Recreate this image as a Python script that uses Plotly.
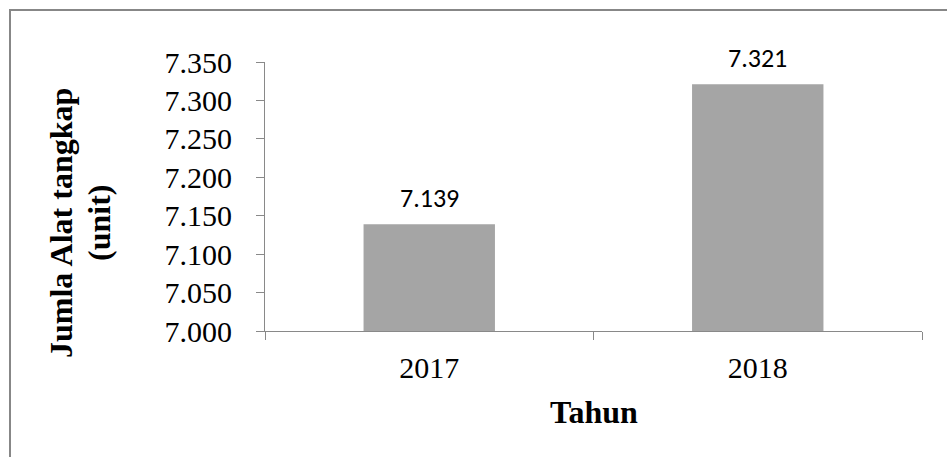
import plotly.graph_objects as go

years = ["2017", "2018"]
values = [7139, 7321]
y_ticks = [7000, 7050, 7100, 7150, 7200, 7250, 7300, 7350]
y_title_lines = ["Jumla Alat tangkap", "(unit)"]

W, H = 947, 457
L, R, T, B = 265, 25, 62, 126
pw, ph = W - L - R, H - T - B

SERIF = "Liberation Serif"
SANS = "Carlito, Lato"

def fmt(v):
    return f"{v:,}".replace(",", ".")

def px_x(p):
    return (p - L) / pw

def px_y(p):
    return (T + ph - p) / ph

fig = go.Figure()
fig.add_trace(go.Bar(x=years, y=values, width=0.4,
                     marker=dict(color="#A5A5A5", line=dict(width=0)),
                     showlegend=False, hoverinfo="skip"))

for i, v in enumerate(values):
    fig.add_annotation(x=i, y=v, xref="x", yref="y", text=fmt(v), showarrow=False,
                       yanchor="bottom", yshift=8,
                       font=dict(family=SANS, size=26, color="#000000"))

# y-axis title (two lines), anchored by their left edge
for line, lx in zip(y_title_lines, [41, 79]):
    fig.add_annotation(xref="paper", yref="paper",
                       x=px_x(lx), y=px_y(223),
                       text=f"<b>{line}</b>", textangle=-90,
                       showarrow=False, xanchor="left", yanchor="middle",
                       font=dict(family=SERIF, size=32, color="#000000"))

# x-axis title
fig.add_annotation(xref="paper", yref="paper",
                   x=0.5, y=px_y(412),
                   text="<b>Tahun</b>", showarrow=False, xanchor="center", yanchor="middle",
                   font=dict(family=SERIF, size=32, color="#000000"))

# outer frame (extends past right and bottom edges)
fig.add_shape(type="rect", xref="paper", yref="paper",
              x0=px_x(10), x1=px_x(990),
              y0=px_y(500), y1=px_y(10),
              line=dict(color="#878787", width=2), fillcolor="rgba(0,0,0,0)", layer="below")

fig.update_layout(
    width=W, height=H,
    margin=dict(l=L, r=R, t=T, b=B),
    paper_bgcolor="white", plot_bgcolor="white",
    separators=",.",
    xaxis=dict(type="category", categoryorder="array", categoryarray=years,
               range=[-0.5, 1.5], autorange=False,
               showline=True, linecolor="#898989", linewidth=1,
               ticks="outside", ticklen=8, tickcolor="#898989", tickson="boundaries",
               showgrid=False, zeroline=False, tickangle=0, ticklabelstandoff=10,
               tickfont=dict(family=SERIF, size=30, color="#000000")),
    yaxis=dict(range=[7000, 7350], autorange=False, tickvals=y_ticks, tickformat=",d",
               showline=True, linecolor="#898989", linewidth=1,
               ticks="outside", ticklen=8, tickcolor="#898989",
               showgrid=False, zeroline=False, ticklabelstandoff=18,
               tickfont=dict(family=SERIF, size=30, color="#000000")),
)

fig.write_html("out.html")
